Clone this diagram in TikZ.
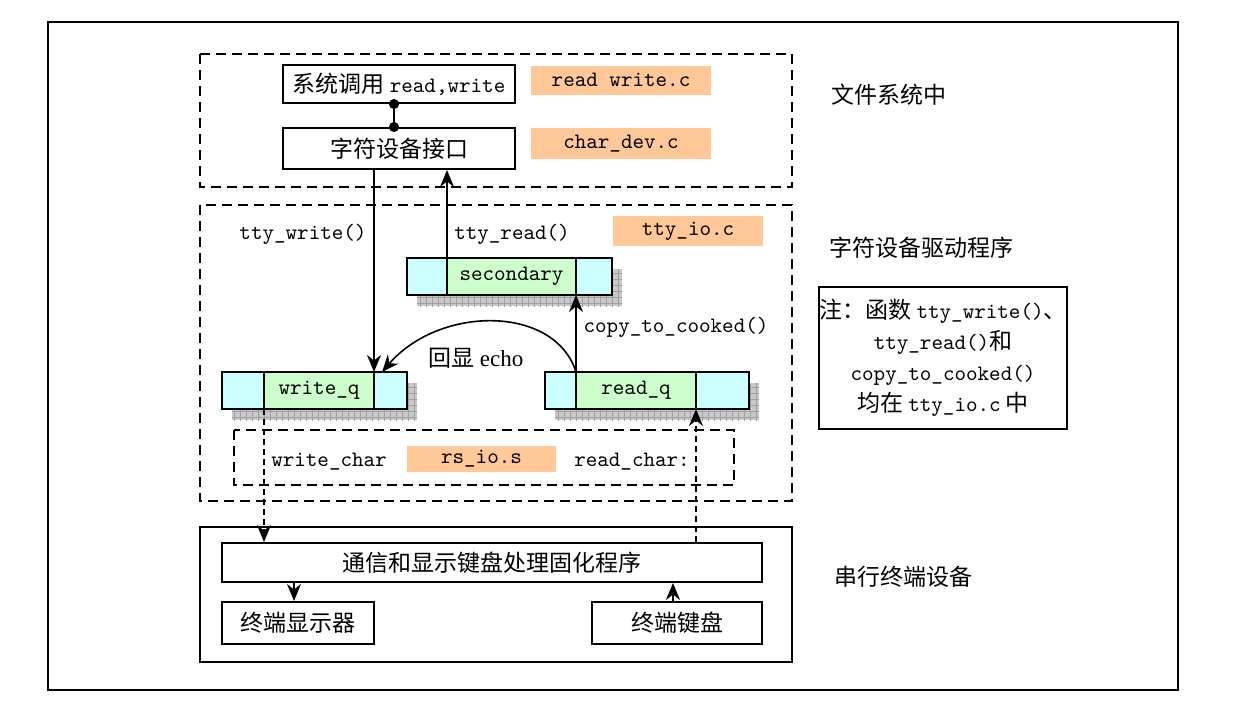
\documentclass[tikz,border=0pt]{standalone}
\usepackage{fontspec}
\setmainfont{Noto Sans CJK SC}
\setmonofont{Latin Modern Mono}
\newfontfamily\latinserif{Liberation Serif}
\usetikzlibrary{arrows.meta, positioning, calc, backgrounds, patterns.meta}
\definecolor{fileorange}{RGB}{255,200,150}
\definecolor{qcyan}{RGB}{204,255,255}
\definecolor{qgreen}{RGB}{204,255,204}
\newcommand{\cn}{\fontsize{11.5}{15.5}\selectfont}
\newcommand{\code}[1]{{\ttfamily\fontsize{11}{15.5}\selectfont #1}}

\begin{document}
\begin{tikzpicture}[
    x=0.5pt, y=-0.5pt,
    box/.style={rectangle, draw, line width=1pt, inner sep=0pt, align=center, font=\cn},
    srcfile/.style={rectangle, fill=fileorange, inner sep=0pt, font=\cn},
    qcell/.style={rectangle, draw, line width=1.4pt, inner sep=0pt, outer sep=0pt, minimum height=18.5pt, font=\cn},
    qshadow/.style={fill=gray!42,
        postaction={pattern={Lines[distance=3pt, line width=0.5pt]}, pattern color=gray!75},
        postaction={pattern={Lines[angle=90, distance=3pt, line width=0.5pt]}, pattern color=gray!75}},
    dashbox/.style={draw, line width=1pt, dash pattern=on 5pt off 3pt},
    arrow/.style={-{Stealth[length=8.5pt, width=7pt]}, line width=0.8pt},
    dasharrow/.style={arrow, dash pattern=on 3pt off 2pt},
    label/.style={inner sep=1pt, font=\cn}
]
\useasboundingbox (0,0) rectangle (1238,712);

% outer frame and layer frames
\draw[line width=1pt] (48,22) rectangle (1178,690);
\draw[dashbox] (200,54) rectangle (792,187);
\draw[dashbox] (200,205) rectangle (792,501);
\draw[dashbox] (234,430) rectangle (734,485);
\draw[line width=1pt] (200,527) rectangle (792,662);

% file system layer
\node[box, minimum width=116pt, minimum height=19pt] (syscall) at (399,84) {系统调用 \code{read,write}};
\node[srcfile, minimum width=90pt, minimum height=14.5pt] (rwfile) at (621,80) {\code{read write.c}};
\node[box, minimum width=116pt, minimum height=20.5pt] (chardev) at (399,148.5) {字符设备接口};
\node[srcfile, minimum width=90pt, minimum height=15.5pt] (cdfile) at (621,143.5) {\code{char\_dev.c}};
\draw[line width=1pt, {Circle[length=5pt]}-{Circle[length=5pt]}, shorten <=-2.5pt, shorten >=-2.5pt]
    ([xshift=-2.5pt]syscall.south) -- ([xshift=-2.5pt]chardev.north);

% tty driver layer
\node[label] (ttywrite) at (303,234) {\code{tty\_write()}};
\node[label] (ttyread) at (512,234) {\code{tty\_read()}};
\node[srcfile, minimum width=75pt, minimum height=15pt] (iofile) at (688,231) {\code{tty\_io.c}};

% secondary queue
\node[qcell, fill=qcyan, minimum width=20pt, anchor=north west] (secL) at (407,258) {};
\node[qcell, fill=qgreen, minimum width=64.5pt, right=0pt of secL] (secM) {\code{secondary}};
\node[qcell, fill=qcyan, minimum width=18pt, right=0pt of secM] (secR) {};
% write queue
\node[qcell, fill=qcyan, minimum width=21pt, anchor=north west] (wqL) at (222,372) {};
\node[qcell, fill=qgreen, minimum width=55pt, right=0pt of wqL] (wqM) {\code{write\_q}};
\node[qcell, fill=qcyan, minimum width=16.5pt, right=0pt of wqM] (wqR) {};
% read queue
\node[qcell, fill=qcyan, minimum width=15.5pt, anchor=north west] (rqL) at (545,372) {};
\node[qcell, fill=qgreen, minimum width=60pt, right=0pt of rqL] (rqM) {\code{read\_q}};
\node[qcell, fill=qcyan, minimum width=26.5pt, right=0pt of rqM] (rqR) {};

% queue shadows
\begin{scope}[on background layer]
  \foreach \q in {sec, wq, rq}
    \fill[qshadow] ([shift={(5pt,-5.5pt)}]\q L.north west) rectangle ([shift={(5pt,-5.5pt)}]\q R.south east);
\end{scope}

\draw[arrow] (wqR.north west |- chardev.south) -- (wqR.north west);
\draw[arrow] (secM.north west) -- (secM.north west |- chardev.south);
\draw[arrow] (rqM.north west) -- (rqM.north west |- secR.south);
\node[label] (cooklabel) at (676,327) {\code{copy\_to\_cooked()}};
\draw[arrow] (rqM.north west) .. controls (555,305) and (440,305) .. ([xshift=4pt]wqR.north west);
\node[label] (echolabel) at (476,358) {回显 {\latinserif echo}};

% rs_io layer
\node[label] (wrchar) at (329,462) {\code{write\_char}};
\node[srcfile, minimum width=74.5pt, minimum height=13pt] (rsfile) at (481.5,459) {\code{rs\_io.s}};
\node[label] (rdchar) at (632,462) {\code{read\_char:}};

% serial terminal
\node[box, minimum width=270pt, minimum height=19.5pt] (firmware) at (492,562.5) {通信和显示键盘处理固化程序};
\node[box, minimum width=76pt, minimum height=21pt] (display) at (298,623) {终端显示器};
\node[box, minimum width=85pt, minimum height=21pt] (keyboard) at (677,623) {终端键盘};
\coordinate (dispin) at ([xshift=-2pt]display.north);
\coordinate (kbdout) at ([xshift=-2pt]keyboard.north);

\draw[dasharrow] (wqL.south east) -- (wqL.south east |- firmware.north);
\draw[dasharrow] (rqR.south west |- firmware.north) -- (rqR.south west);
\draw[arrow] (dispin |- firmware.south) -- (dispin);
\draw[arrow] (kbdout) -- (kbdout |- firmware.south);

% layer labels and note
\node[label] (fslabel) at (889,95) {文件系统中};
\node[label] (drvlabel) at (921,248) {字符设备驱动程序};
\node[label] (termlabel) at (903,577) {串行终端设备};
\node[box, minimum width=123pt, minimum height=71pt] (note) at (943,358)
    {注：函数 \code{tty\_write()}、\\ \code{tty\_read()}和\\ \code{copy\_to\_cooked()}\\ 均在 \code{tty\_io.c} 中};
\end{tikzpicture}
\end{document}
